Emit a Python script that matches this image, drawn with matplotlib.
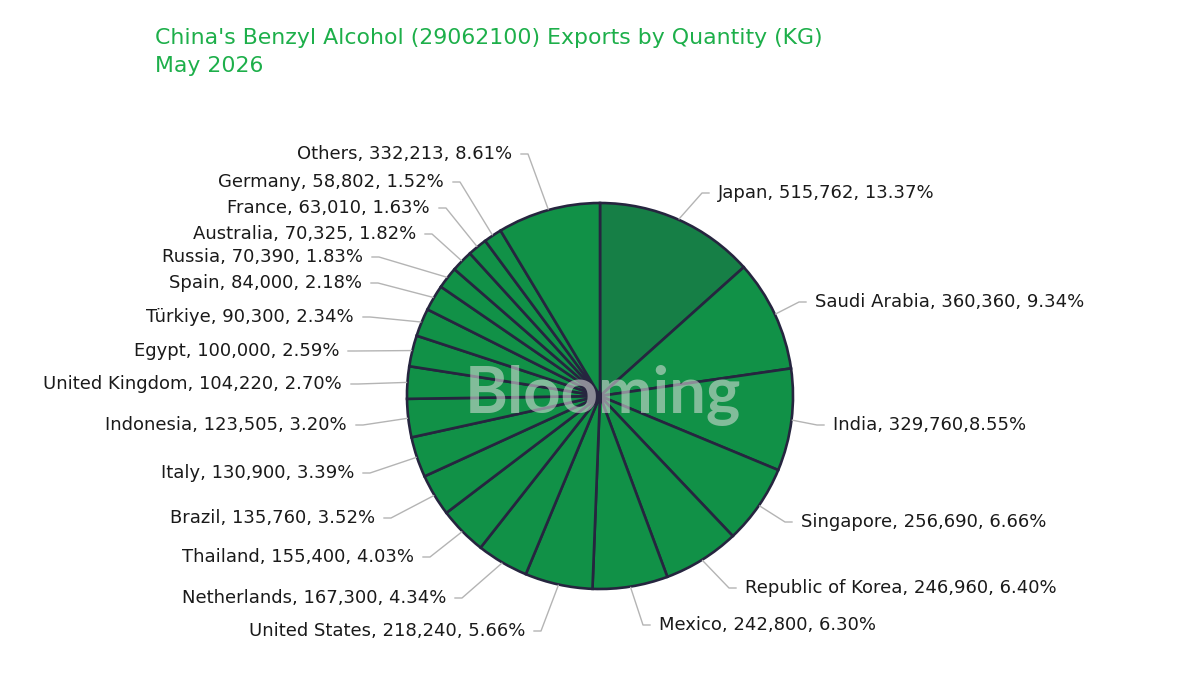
import numpy as np
import matplotlib.pyplot as plt

# data (clockwise from 12 o'clock)
countries = ["Japan", "Saudi Arabia", "India", "Singapore", "Republic of Korea",
             "Mexico", "United States", "Netherlands", "Thailand", "Brazil",
             "Italy", "Indonesia", "United Kingdom", "Egypt", "Türkiye", "Spain",
             "Russia", "Australia", "France", "Germany", "Others"]
quantity = [515762, 360360, 329760, 256690, 246960, 242800, 218240, 167300,
            155400, 135760, 130900, 123505, 104220, 100000, 90300, 84000,
            70390, 70325, 63010, 58802, 332213]
shares = ["13.37%", "9.34%", "8.55%", "6.66%", "6.40%", "6.30%", "5.66%", "4.34%",
          "4.03%", "3.52%", "3.39%", "3.20%", "2.70%", "2.59%", "2.34%", "2.18%",
          "1.83%", "1.82%", "1.63%", "1.52%", "8.61%"]

# label anchor (pixel, image coords): x is text start (right side) or text end (left side)
label_pos = [(718, 193), (815, 302), (833, 425), (801, 522), (745, 588),
             (659, 625), (525, 631), (446, 598), (414, 557), (375, 518),
             (354, 473), (347, 425), (342, 384), (339, 351), (354, 317),
             (362, 283), (363, 257), (416, 234), (430, 208), (444, 182), (512, 154)]

W, H = 1200, 675
fig = plt.figure(figsize=(12, 6.75), dpi=100)
ax = fig.add_axes([0, 0, 1, 1])

cx, cy, r = 600, H - 396, 193
colors = ["#167f46"] + ["#119147"] * (len(quantity) - 1)
wedges, _ = ax.pie(quantity, startangle=90, counterclock=False, colors=colors,
                   center=(cx, cy), radius=r, frame=True,
                   wedgeprops=dict(edgecolor="#26253f", linewidth=1.9))
ax.set_xlim(0, W)
ax.set_ylim(0, H)
ax.set_aspect("equal")
ax.axis("off")

font = "DejaVu Sans"
for i, w in enumerate(wedges):
    ang = np.deg2rad((w.theta1 + w.theta2) / 2)
    ex, ey = cx + (r + 1) * np.cos(ang), cy + (r + 1) * np.sin(ang)
    tx, ty = label_pos[i]
    ty = H - ty
    if ex > cx:
        bx, hx, ha = tx - 16, tx - 9, "left"
    else:
        bx, hx, ha = tx + 16, tx + 9, "right"
    ax.plot([ex, bx, hx], [ey, ty, ty], color="#b4b4b4", lw=1, zorder=1)
    sep = "," if countries[i] == "India" else ", "
    txt = f"{countries[i]}, {quantity[i]:,}{sep}{shares[i]}"
    ax.text(tx, ty, txt, ha=ha, va="center", fontsize=13, color="#1a1a1a",
            family=font)

ax.text(603, H - 396, "Blooming", ha="center", va="center", fontsize=47,
        fontweight="bold", color="#e0e0e0", alpha=0.55, family="Lato", zorder=5)

fig.text(155 / W, 1 - 38 / H, "China's Benzyl Alcohol (29062100) Exports by Quantity (KG)",
         ha="left", va="center", fontsize=15.8, color="#1daf4a", family=font)
fig.text(155 / W, 1 - 66 / H, "May 2026", ha="left", va="center", fontsize=15.8,
         color="#1daf4a", family=font)

fig.savefig("out.png", dpi=100)
